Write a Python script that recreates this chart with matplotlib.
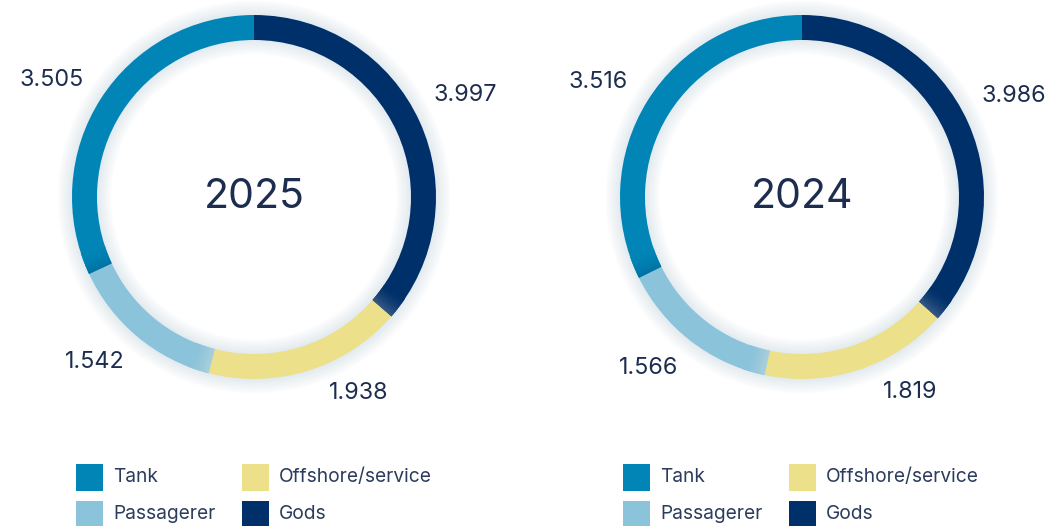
import numpy as np
import matplotlib.pyplot as plt
from matplotlib.patches import Wedge, Rectangle
from matplotlib.colors import to_rgb

# Data
categories = ["Gods", "Offshore/service", "Passagerer", "Tank"]
values_2025 = [3997, 1938, 1542, 3505]
values_2024 = [3986, 1819, 1566, 3516]
years = ["2025", "2024"]
labels_2025 = ["3.997", "1.938", "1.542", "3.505"]
labels_2024 = ["3.986", "1.819", "1.566", "3.516"]

colors = {"Gods": "#00306a", "Offshore/service": "#ede08a",
          "Passagerer": "#8ac3da", "Tank": "#0085b6"}
legend_order = ["Tank", "Offshore/service", "Passagerer", "Gods"]

TXT = "#1c2d4f"
FONT = "Inter"

W, H = 1047, 526
fig = plt.figure(figsize=(W / 100, H / 100), dpi=100)
ax = fig.add_axes([0, 0, 1, 1])
ax.set_xlim(0, W)
ax.set_ylim(0, H)
ax.set_aspect("equal")
ax.axis("off")

R = 182
RING = 25
# small nudges for label placement (pixels), per category
nudge = {"Gods": (-3, 5), "Offshore/service": (35, 28),
         "Passagerer": (-9, 15), "Tank": (-4, -9)}

# soft shading at segment joins: (boundary index, which side, tint, strength)
shades = [(0, "prev", "#7f90a8", 0.45),
          (1, "next", "#d8e0dc", 0.45),
          (2, "next", "#00699a", 0.7)]


def donut(cx, cy, values, labels, year):
    # soft glow around the ring
    for k in range(1, 10):
        ax.add_patch(Wedge((cx, cy), R + k * 1.6, 0, 360, width=RING + k * 3.2,
                           facecolor="#a9c2d8", edgecolor="none", alpha=0.035, zorder=1))
    ax.pie(values, colors=[colors[c] for c in categories], startangle=90,
           counterclock=False, radius=R, center=(cx, cy),
           wedgeprops=dict(width=RING, edgecolor="none", linewidth=0, zorder=3),
           frame=True)
    total = sum(values)
    cum = np.cumsum([0] + values)
    n = len(values)
    span = 7.0
    steps = 24
    for i, side, tint, k in shades:
        b = 90 - 360 * cum[i + 1] / total
        cat = categories[i] if side == "prev" else categories[(i + 1) % n]
        base = np.array(to_rgb(colors[cat]))
        tc = np.array(to_rgb(tint))
        for s in range(steps):
            if side == "prev":
                a1 = b + span * s / steps
            else:
                a1 = b - span * (s + 1) / steps
            a2 = a1 + span / steps + 0.15
            t = k * (1 - (s + 0.5) / steps) ** 1.5
            col = base * (1 - t) + tc * t
            ax.add_patch(Wedge((cx, cy), R, a1, a2, width=RING,
                               facecolor=col, edgecolor="none", zorder=4))
    # value labels
    for i, c in enumerate(categories):
        mid = np.deg2rad(90 - 360 * (cum[i] + values[i] / 2) / total)
        dx, dy = nudge[c]
        x = cx + 235 * np.cos(mid) + dx
        y = cy + 235 * np.sin(mid) + dy
        ax.text(x, y, labels[i], ha="center", va="center", fontsize=16.8,
                color=TXT, family=FONT, zorder=5)
    ax.text(cx, cy, year, ha="center", va="center", fontsize=29.5,
            color=TXT, family=FONT, zorder=5)


def legend(x0):
    cols = [x0, x0 + 166]
    rows = [H - 477, H - 514]
    for j, c in enumerate(legend_order):
        x = cols[j % 2]
        y = rows[j // 2]
        ax.add_patch(Rectangle((x, y - 13.5), 27, 27, facecolor=colors[c],
                               edgecolor="none", zorder=5))
        ax.text(x + 37, y, c, ha="left", va="center", fontsize=13.8,
                color="#2b3c5c", family=FONT, zorder=5)


donut(254, H - 197, values_2025, labels_2025, years[0])
donut(802, H - 197, values_2024, labels_2024, years[1])
legend(76)
legend(623)

ax.set_xlim(0, W)
ax.set_ylim(0, H)
ax.axis("off")
fig.savefig("out.png", dpi=100)
